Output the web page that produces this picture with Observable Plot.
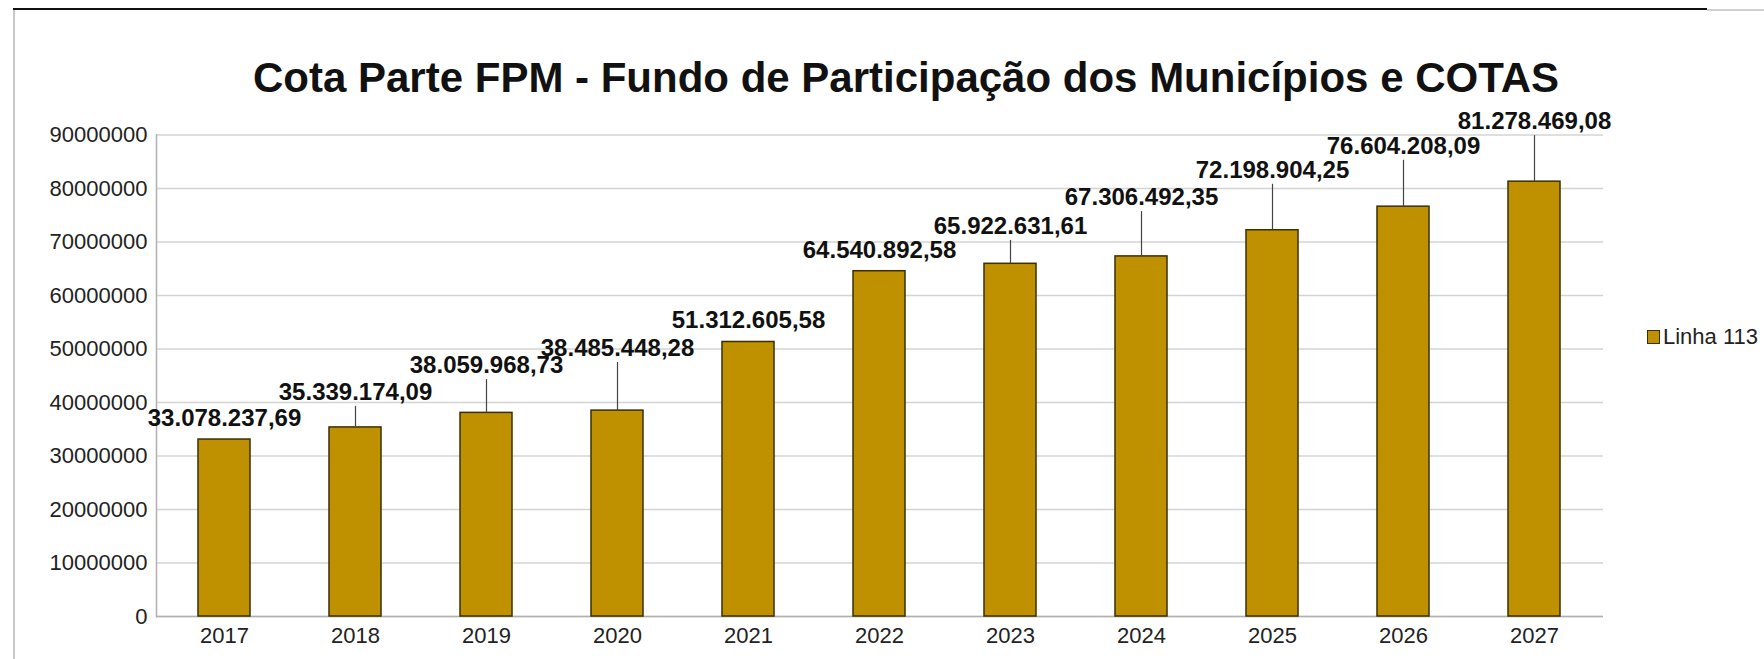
<!DOCTYPE html>
<html>
<head>
<meta charset="utf-8">
<script src="https://cdn.jsdelivr.net/npm/d3@7"></script>
<script src="https://cdn.jsdelivr.net/npm/@observablehq/plot@0.6"></script>
<style>
  html, body { margin: 0; padding: 0; background: #fff; overflow: hidden; }
  #wrap { position: relative; width: 1764px; height: 659px; font-family: "Liberation Sans", Arial, sans-serif; }
  #title { position: absolute; left: 253px; top: 57px; font-size: 42px; line-height: 42px; font-weight: bold; color: #111; white-space: nowrap; }
  #legend { position: absolute; left: 1647px; top: 325px; font-size: 22px; line-height: 24px; color: #222; white-space: nowrap; display: flex; align-items: center; }
  #legend .sw { width: 11px; height: 12px; background: #bf9000; border: 1.5px solid #3a2f00; margin-right: 3px; }
  #topline { position: absolute; left: 13px; top: 8px; width: 1694px; height: 2px; background: #111; }
  #topline2 { position: absolute; left: 1707px; top: 9px; width: 57px; height: 2px; background: #d0d0d0; }
  #leftline { position: absolute; left: 13px; top: 10px; width: 2px; height: 649px; background: #c8c8c8; }
  #chart { position: absolute; left: 0; top: 0; }
</style>
</head>
<body>
<div id="wrap">
  <div id="topline"></div><div id="topline2"></div><div id="leftline"></div>
  <div id="chart"></div>
  <div id="title">Cota Parte FPM - Fundo de Participação dos Municípios e COTAS</div>
  <div id="legend"><span class="sw"></span><span id="legname"></span></div>
</div>
<script>
// ---- data ----
const years = ["2017", "2018", "2019", "2020", "2021", "2022", "2023", "2024", "2025", "2026", "2027"];
const values = [33078237.69, 35339174.09, 38059968.73, 38485448.28, 51312605.58, 64540892.58,
                65922631.61, 67306492.35, 72198904.25, 76604208.09, 81278469.08];
// height (in value units) at which each data label sits in the reference
const labelAt = [37.0e6, 41.9e6, 46.9e6, 50.1e6, 55.3e6, 68.4e6, 72.9e6, 78.3e6, 83.4e6, 87.9e6, 92.5e6];
const yTicks = [0, 10000000, 20000000, 30000000, 40000000, 50000000, 60000000, 70000000, 80000000, 90000000];
const seriesName = "Linha 113";

const rows = years.map((y, i) => ({year: y, value: values[i], labelAt: labelAt[i]}));
const br = d3.formatLocale({decimal: ",", thousands: ".", grouping: [3], currency: ["R$", ""]});
const fmt = br.format(",.2f");

document.getElementById("legname").textContent = seriesName;

const chart = Plot.plot({
  width: 1764,
  height: 659,
  marginTop: 134.5,
  marginBottom: 43,
  marginLeft: 156,
  marginRight: 161,
  style: {fontFamily: "'Liberation Sans', Arial, sans-serif", fontSize: "22px", color: "#222", background: "transparent"},
  x: {domain: years, paddingInner: 0.6, paddingOuter: 0.3, label: null},
  y: {domain: [0, 90000000], label: null},
  marks: [
    Plot.gridY(yTicks, {stroke: "#d4d4d4", strokeOpacity: 1, strokeWidth: 1.5}),
    Plot.frame({anchor: "left", stroke: "#b0b0b0", strokeWidth: 1.5}),
    Plot.ruleY([0], {stroke: "#b0b0b0", strokeWidth: 1.5}),
    Plot.barY(rows, {x: "year", y: "value", fill: "#bf9000", stroke: "#3a2f00", strokeWidth: 1.5}),
    Plot.ruleX(rows.filter(d => d.labelAt - d.value > 5e6), {x: "year", y1: "labelAt", y2: "value", insetTop: 14, stroke: "#444", strokeWidth: 1.2}),
    Plot.text(rows, {x: "year", y: "labelAt", text: d => fmt(d.value), fontWeight: "bold", fontSize: 24, fill: "#111"}),
    Plot.axisY(yTicks, {tickSize: 0, tickPadding: 9, tickFormat: d3.format("d"), fontSize: 22, fill: "#222", label: null}),
    Plot.axisX({tickSize: 0, tickPadding: 11, fontSize: 22, fill: "#222", label: null})
  ]
});
document.getElementById("chart").appendChild(chart);
</script>
</body>
</html>
